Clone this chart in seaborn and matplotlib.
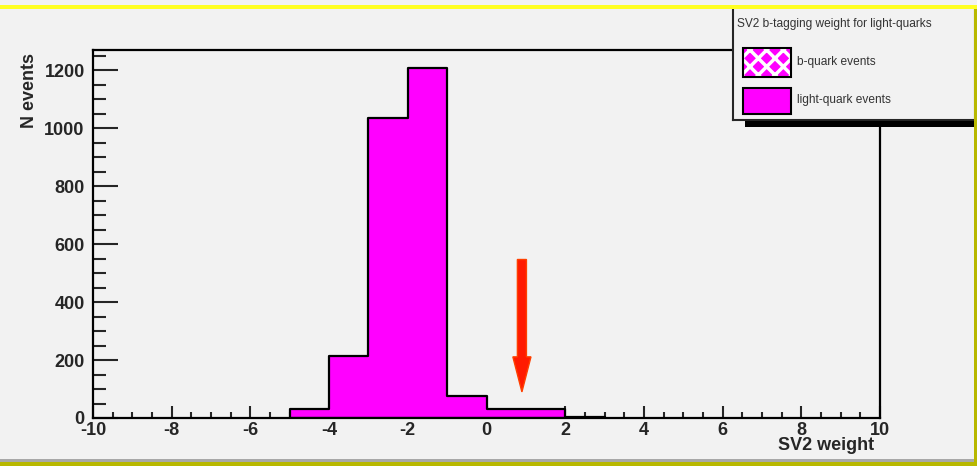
import matplotlib
matplotlib.use("Agg")
import matplotlib.pyplot as plt
from matplotlib.patches import Rectangle, FancyArrow
from matplotlib.ticker import MultipleLocator
import numpy as np
import pandas as pd
import seaborn as sns

# ---- data -------------------------------------------------------------
bin_edges = [-5, -4, -3, -2, -1, 0, 1, 2, 3]
light_counts = [32, 214, 1035, 1207, 75, 32, 32, 4]
x_range = (-10, 10)
y_max = 1270
x_label = "SV2 weight"
y_label = "N events"
legend_title = "SV2 b-tagging weight for light-quarks"
legend_labels = ["b-quark events", "light-quark events"]
cut_value = 0.9          # SV2 cut marked by the arrow
arrow_span = (547, 90)   # arrow tail / tip heights (events)

# ---- style ------------------------------------------------------------
W, H = 977, 466
BG = "#f2f2f2"
MAGENTA = "#ff00ff"
sns.set_style("ticks")
plt.rcParams["font.family"] = ["Liberation Sans", "DejaVu Sans"]
plt.rcParams["axes.unicode_minus"] = False
plt.rcParams["hatch.linewidth"] = 2.5

fig = plt.figure(figsize=(W / 100, H / 100), dpi=100, facecolor=BG)


def fx(px):
    return px / W


def fy(py):
    return 1 - py / H


ax = fig.add_axes([fx(93), fy(418), fx(880) - fx(93), fy(50) - fy(418)])
ax.set_facecolor(BG)

centers = [(a + b) / 2 for a, b in zip(bin_edges[:-1], bin_edges[1:])]
df = pd.DataFrame({"weight": centers, "count": light_counts})
sns.histplot(data=df, x="weight", weights="count", bins=bin_edges,
             element="step", fill=True, color=MAGENTA, alpha=1,
             edgecolor="black", linewidth=1.6, ax=ax)

ax.set_xlim(*x_range)
ax.set_ylim(0, y_max)
ax.set_xlabel("")
ax.set_ylabel("")

for s in ax.spines.values():
    s.set_visible(True)
    s.set_linewidth(1.6)
    s.set_color("black")

ax.xaxis.set_major_locator(MultipleLocator(2))
ax.xaxis.set_minor_locator(MultipleLocator(0.5))
ax.yaxis.set_major_locator(MultipleLocator(200))
ax.yaxis.set_minor_locator(MultipleLocator(50))
ax.tick_params(axis="x", which="major", direction="in", length=9, width=1.5,
               pad=3, labelsize=13)
ax.tick_params(axis="x", which="minor", direction="in", length=4.5, width=1.5)
ax.tick_params(axis="y", which="major", direction="in", length=18, width=1.5,
               pad=6, labelsize=13)
ax.tick_params(axis="y", which="minor", direction="in", length=9, width=1.5)
for lab in ax.get_xticklabels() + ax.get_yticklabels():
    lab.set_fontweight("bold")

# cut arrow
arrow_len = arrow_span[1] - arrow_span[0]
ax.add_patch(FancyArrow(cut_value, arrow_span[0], 0, arrow_len,
                        width=0.23, head_width=0.46, head_length=121,
                        length_includes_head=True, facecolor="#ff1a00",
                        edgecolor="#ff4000", linewidth=1, zorder=5))

# axis titles
fig.text(fx(874), fy(446), x_label, ha="right", va="center",
         fontsize=13, fontweight="bold")
fig.text(fx(29), fy(90), y_label, ha="center", va="center", rotation=90,
         fontsize=13, fontweight="bold")

# legend panel
lg = fig.add_axes([fx(733), fy(120), fx(975) - fx(733), fy(7) - fy(120)])
lg.set_xlim(733, 975)
lg.set_ylim(120, 7)
lg.set_facecolor(BG)
for s in lg.spines.values():
    s.set_linewidth(1.5)
lg.set_xticks([])
lg.set_yticks([])
lg.text(737, 24, legend_title, fontsize=8.6, color="#333333",
        ha="left", va="center")
lg.add_patch(Rectangle((743, 48), 48, 29, facecolor=MAGENTA,
                       edgecolor="white", hatch="xx", linewidth=0))
lg.add_patch(Rectangle((743, 48), 48, 29, fill=False,
                       edgecolor="black", linewidth=1.5))
lg.add_patch(Rectangle((743, 88), 48, 26, facecolor=MAGENTA,
                       edgecolor="black", linewidth=1.5))
lg.text(797, 62, legend_labels[0], fontsize=8.6, color="#333333",
        ha="left", va="center")
lg.text(797, 100, legend_labels[1], fontsize=8.6, color="#333333",
        ha="left", va="center")

# legend shadow
fig.patches.append(Rectangle((fx(745), fy(127)), fx(975) - fx(745),
                             fy(121) - fy(127), transform=fig.transFigure,
                             facecolor="black", edgecolor="none"))

# canvas bevel frame
frame = [
    ((0, 5), (W, 9), "#ffff22"),
    ((0, 459), (W, 462), "#a8a8a8"),
    ((0, 462), (W, H), "#b8b800"),
    ((974, 9), (W, H), "#b8b800"),
]
for (x0, y0), (x1, y1), c in frame:
    fig.patches.append(Rectangle((fx(x0), fy(y1)), fx(x1) - fx(x0),
                                 fy(y0) - fy(y1), transform=fig.transFigure,
                                 facecolor=c, edgecolor="none", zorder=10))

fig.savefig("out.png", dpi=100, facecolor=BG)
